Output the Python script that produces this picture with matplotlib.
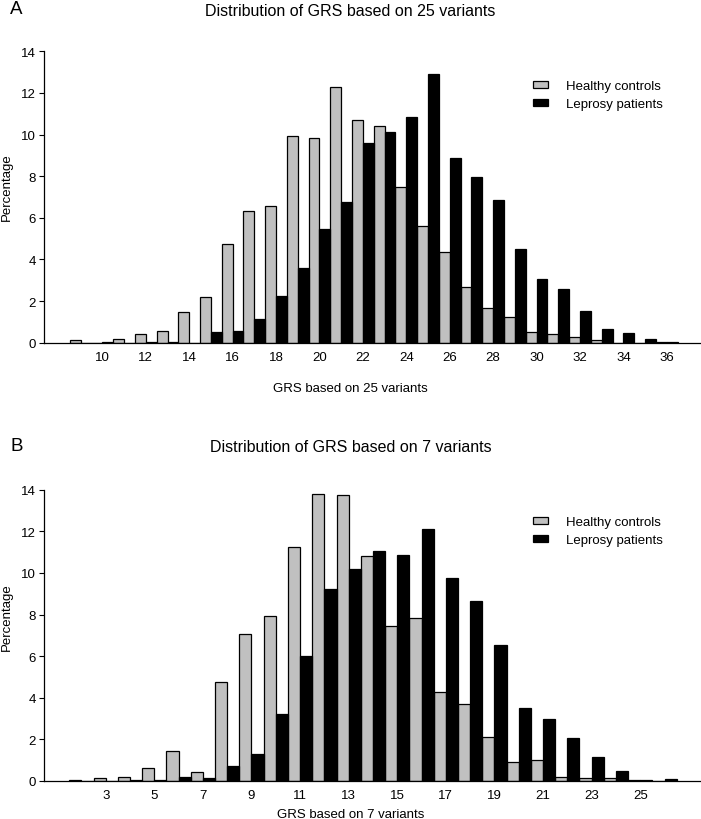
import matplotlib
matplotlib.use("Agg")
import matplotlib.pyplot as plt
import numpy as np

plt.rcParams['font.family'] = ['Liberation Sans', 'DejaVu Sans']

# Panel A: GRS based on 25 variants
cats_a = list(range(9, 37))
healthy_a = [0.11, 0, 0.16, 0.42, 0.56, 1.46, 2.21, 4.73, 6.34, 6.58, 9.93, 9.82, 12.27, 10.72,
             10.43, 7.50, 5.62, 4.34, 2.66, 1.68, 1.25, 0.50, 0.42, 0.26, 0.11, 0, 0, 0.05]
leprosy_a = [0, 0.05, 0, 0.05, 0.05, 0, 0.50, 0.56, 1.14, 2.26, 3.57, 5.48, 6.74, 9.59,
             10.11, 10.84, 12.89, 8.87, 7.94, 6.84, 4.50, 3.06, 2.58, 1.51, 0.66, 0.45, 0.16, 0.05]
ticks_a = list(range(10, 37, 2))

# Panel B: GRS based on 7 variants
cats_b = list(range(2, 27))
healthy_b = [0.07, 0.16, 0.19, 0.64, 1.43, 0.45, 4.77, 7.08, 7.91, 11.26, 13.78, 13.76, 10.83,
             7.45, 7.85, 4.26, 3.68, 2.13, 0.90, 0.99, 0.21, 0.13, 0.13, 0.06, 0]
leprosy_b = [0, 0, 0.06, 0.06, 0.19, 0.16, 0.72, 1.28, 3.20, 6.01, 9.23, 10.19, 11.07,
             10.84, 12.11, 9.75, 8.65, 6.55, 3.51, 3.00, 2.07, 1.14, 0.50, 0.06, 0.11]
ticks_b = list(range(3, 26, 2))

yticks = [0, 2, 4, 6, 8, 10, 12, 14]
labels = ["Healthy controls", "Leprosy patients"]

W, H = 701, 820
fig = plt.figure(figsize=(W / 100, H / 100), dpi=100)

GRAY = "#c0c0c0"
FS = 9.5


def panel(top_px, bottom_px, cats, hv, lv, ticks, xlim, letter, title, xlabel,
          title_y, xlabel_y, ylabel_y, leg_top):
    ax = fig.add_axes([44 / W, 1 - bottom_px / H, 656 / W, (bottom_px - top_px) / H])
    x = np.array(cats, dtype=float)
    b1 = ax.bar(x - 0.25, hv, width=0.5, color=GRAY, edgecolor="black", linewidth=0.9,
                label=labels[0], zorder=2)
    b2 = ax.bar(x + 0.25, lv, width=0.5, color="black", edgecolor="black", linewidth=0.9,
                label=labels[1], zorder=2)
    ax.set_xlim(*xlim)
    ax.set_ylim(0, 14)
    ax.set_yticks(yticks)
    ax.set_xticks(ticks)
    ax.tick_params(axis="x", length=0, pad=6, labelsize=FS)
    ax.tick_params(axis="y", length=3.3, width=0.8, pad=2.4, labelsize=FS, direction="out")
    for s in ("top", "right"):
        ax.spines[s].set_visible(False)
    for s in ("left", "bottom"):
        ax.spines[s].set_linewidth(0.9)
    ax.spines["left"].set_zorder(3)
    ax.spines["bottom"].set_zorder(3)
    fig.text(10 / W, 1 - title_y / H, letter, fontsize=13.5, ha="left", va="center")
    fig.text(0.5, 1 - (title_y + 1) / H, title, fontsize=11.5, ha="center", va="center")
    fig.text(0.5, 1 - xlabel_y / H, xlabel, fontsize=FS, ha="center", va="center")
    fig.text(7 / W, 1 - ylabel_y / H, "Percentage", fontsize=FS, ha="center", va="center",
             rotation=90)
    ax.legend(handles=[b1, b2], loc="upper left",
              bbox_to_anchor=(533 / W, 1 - leg_top / H), bbox_transform=fig.transFigure,
              frameon=False, fontsize=FS, handlelength=1.15, handleheight=0.45,
              handletextpad=1.35, labelspacing=0.45, borderpad=0, borderaxespad=0)
    return ax


panel(52.3, 343.7, cats_a, healthy_a, leprosy_a, ticks_a, (7.31, 37.53), "A",
      "Distribution of GRS based on 25 variants", "GRS based on 25 variants",
      10, 389, 187, 81)
panel(490.7, 782, cats_b, healthy_b, leprosy_b, ticks_b, (0.46, 27.46), "B",
      "Distribution of GRS based on 7 variants", "GRS based on 7 variants",
      447, 815, 617, 517)

fig.savefig("out.png", dpi=100)
